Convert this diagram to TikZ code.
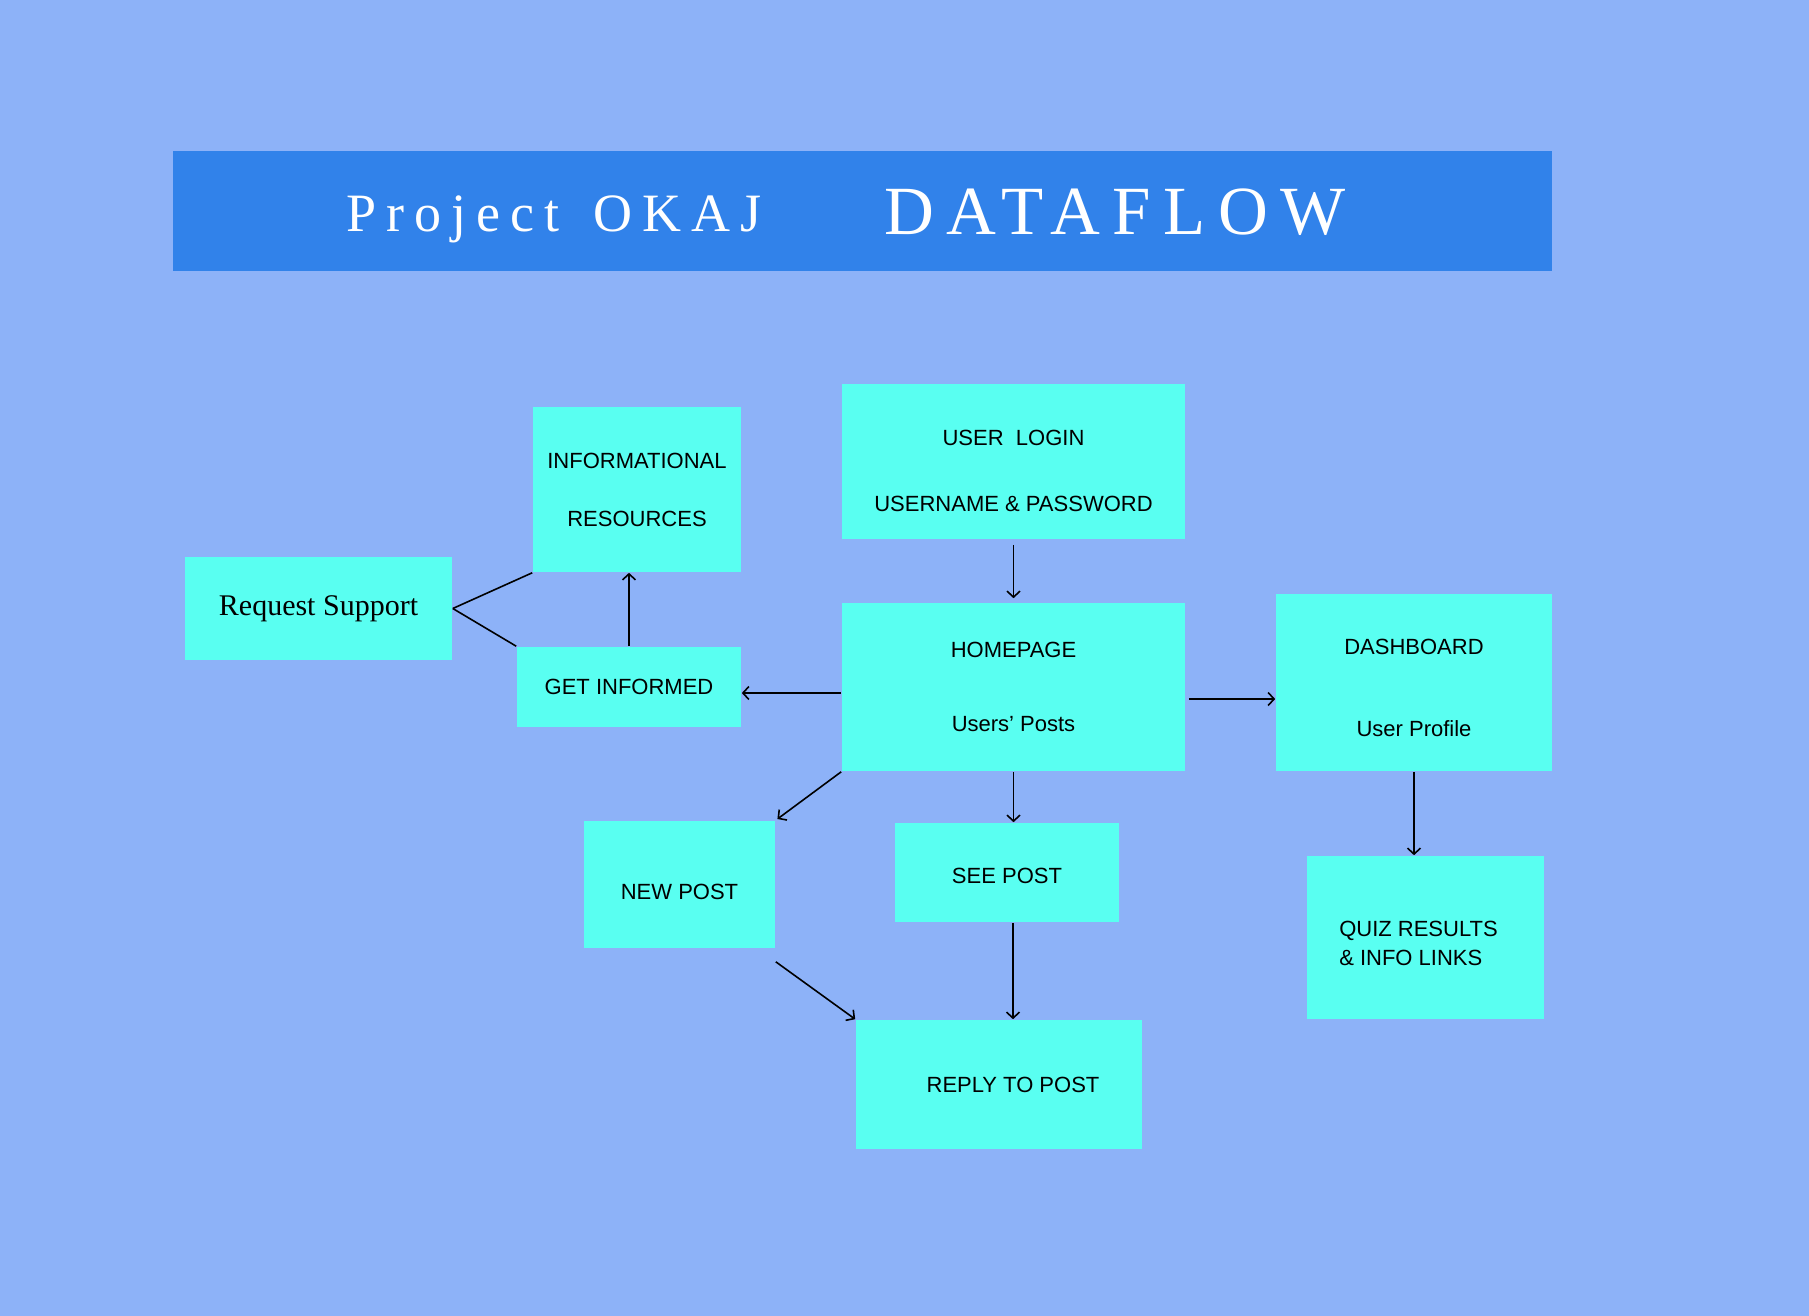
\documentclass[tikz,border=0pt]{standalone}
\usepackage{fontspec}
\setmainfont{Liberation Sans}
\newfontfamily\projfont[LetterSpace=18.5]{Liberation Serif}
\newfontfamily\flowfont[LetterSpace=18]{Liberation Serif}
\newfontfamily\reqfont{Liberation Serif}
\usetikzlibrary{arrows.meta}
\definecolor{bgblue}{HTML}{8DB2F8}
\definecolor{barblue}{HTML}{3182EA}
\definecolor{boxcyan}{HTML}{59FFF1}
\tikzset{
  flowbox/.style={fill=boxcyan, inner sep=0pt, align=center, font=\fontsize{22}{26}\selectfont},
  titletext/.style={text=white, inner sep=0pt, anchor=base west},
}
\begin{document}
\begin{tikzpicture}[x=1pt,y=-1pt,>={Straight Barb[length=6pt,width=13pt]},line width=1.6pt]
    %background and title
    \fill [bgblue] (0,0) rectangle (1809,1316);
    \fill [barblue] (173,151) rectangle (1552,271);
    \node [titletext,font=\projfont\fontsize{54}{54}\selectfont] (proj) at (346,231) {Project\hspace{10pt} OKAJ};
    \node [titletext,font=\flowfont\fontsize{69}{69}\selectfont] (flow) at (884,234) {DATAFLOW};
    %draw boxes
    \node [flowbox,minimum width=267pt,minimum height=103pt,font=\reqfont\fontsize{30}{34}\selectfont] (req) at (318.5,608.5) {Request Support};
    \node [flowbox,minimum width=208pt,minimum height=165pt] (info) at (637,489.5) {INFORMATIONAL\\[32pt]RESOURCES};
    \node [flowbox,minimum width=343pt,minimum height=155pt] (login) at (1013.5,461.5) {\rule{0pt}{34pt}USER\ \ LOGIN\\[40pt]USERNAME \& PASSWORD};
    \node [flowbox,minimum width=224pt,minimum height=80pt] (getinf) at (629,687) {GET INFORMED};
    \node [flowbox,minimum width=343pt,minimum height=168pt] (home) at (1013.5,687) {HOMEPAGE\\[48pt]Users’ Posts};
    \node [flowbox,minimum width=276pt,minimum height=177pt] (dash) at (1414,682.5) {\rule{0pt}{26pt}DASHBOARD\\[56pt]User Profile};
    \node [flowbox,minimum width=191pt,minimum height=127pt] (newpost) at (679.5,884.5) {\rule{0pt}{30pt}NEW POST};
    \node [flowbox,minimum width=224pt,minimum height=99pt] (seepost) at (1007,872.5) {\rule{0pt}{22pt}SEE POST};
    \node [flowbox,align=left,minimum width=237pt,minimum height=163pt,font=\fontsize{22}{29}\selectfont] (quiz) at (1425.5,937.5) {\rule{0pt}{28pt}QUIZ RESULTS\hspace*{14pt}\\\& INFO LINKS};
    \node [flowbox,minimum width=286pt,minimum height=129pt] (reply) at (999,1084.5) {\hspace*{28pt}REPLY TO POST};
    \coordinate (newend) at ([yshift=-13pt]newpost.south east);
    %draw lines
    \draw [-] (req.east) -- (info.south west);
    \draw [-] (req.east) -- (getinf.north west);
    \draw [->] (getinf.north) -- (getinf.north |- info.south);
    \draw [->,shorten <=5pt,shorten >=4pt] (login.south) -- (home.north);
    \draw [->] ([yshift=-6pt]home.west) -- ([yshift=-6pt]getinf.east);
    \draw [->] ([yshift=-12pt,xshift=3pt]home.east) -- ([yshift=-12pt]home.east -| dash.west);
    \draw [->,shorten >=2pt] (home.south west) -- (newpost.north east);
    \draw [->] (home.south) -- (home.south |- seepost.north);
    \draw [->] (dash.south) -- (dash.south |- quiz.north);
    \draw [->] ([xshift=6pt]seepost.south) -- ([xshift=6pt]seepost.south |- reply.north);
    \draw [->] (newend) -- (reply.north west);
\end{tikzpicture}
\end{document}
